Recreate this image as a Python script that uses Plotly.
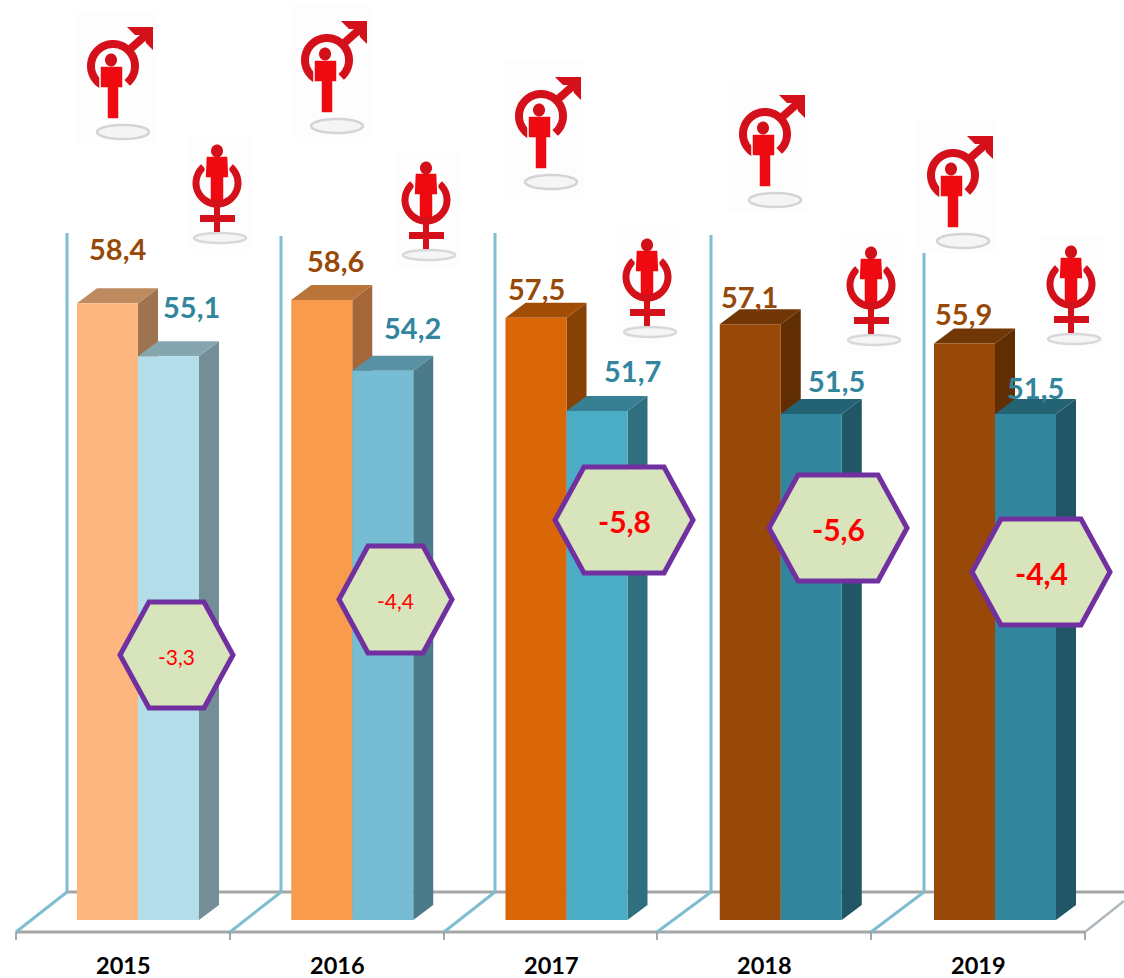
import numpy as np
import plotly.graph_objects as go

# Chart data
YEARS = [2015, 2016, 2017, 2018, 2019]
MEN = [58.4, 58.6, 57.5, 57.1, 55.9]
WOMEN = [55.1, 54.2, 51.7, 51.5, 51.5]
GAPS = [-3.3, -4.4, -5.8, -5.6, -4.4]

# Face colours per year: front, top, side
MEN_FRONT = ["#FDB67F", "#F99B4D", "#D96708", "#984807", "#984807"]
MEN_TOP = ["#BE8A60", "#B97539", "#A24D06", "#713605", "#713605"]
MEN_SIDE = ["#9E7350", "#A5663A", "#884104", "#612E04", "#612E04"]
WOMEN_FRONT = ["#B3DDE8", "#76BDD4", "#4BACC6", "#31859C", "#31859C"]
WOMEN_TOP = ["#85A6AE", "#5891A4", "#377F93", "#246374", "#246374"]
WOMEN_SIDE = ["#738E96", "#4B7B8B", "#306F80", "#205665", "#205665"]
MEN_LABEL = "#984807"
WOMEN_LABEL = "#31859C"

# Canvas and scale
W, H = 1124, 978
BASE = 20
PX_PER_YEAR = 214.25
PX_PER_UNIT = 16.06
LEFT_YEAR_PX = 138
BASE_PX = 920
BAR_W = 61 / PX_PER_YEAR
DX = 20 / PX_PER_YEAR
DY = 15 / PX_PER_UNIT
XR = [2015 - LEFT_YEAR_PX / PX_PER_YEAR, 2015 + (W - LEFT_YEAR_PX) / PX_PER_YEAR]
YR = [BASE - (H - BASE_PX) / PX_PER_UNIT, BASE + BASE_PX / PX_PER_UNIT]

# Pixel offsets of value labels from the top centre of their bars
MEN_SHIFT = [(10, 55), (14, 40), (0, 29), (-1, 28), (-1, 30)]
WOMEN_SHIFT = [(23, 50), (30, 43), (35, 40), (25, 34), (10, 27)]

# Decor layout in canvas pixels
WALL_X = [67, 281, 495, 711, 924]
WALL_TOP = [233, 236, 233, 235, 250]
TICK_X = [16, 230, 444, 657, 871, 1085]
YEAR_X = [123, 337, 551, 764, 978]
HEX_BOX = [(120, 233, 602, 708), (339, 452, 546, 653), (555, 693, 467, 573),
           (769, 907, 475, 581), (972, 1110, 519, 625)]
HEX_BOLD = [False, False, True, True, True]
MALE_AT = [(114, 66), (328, 60), (542, 116), (766, 134), (954, 175)]
FEMALE_AT = [(217, 188), (426, 205), (647, 282), (871, 290), (1071, 289)]


def px(x, y):
    return x / W, 1 - y / H


def poly(points, close=True):
    parts = []
    for k, (x, y) in enumerate(points):
        u, v = px(x, y)
        parts.append(f"{'M' if k == 0 else 'L'}{u:.5f},{v:.5f}")
    return " ".join(parts) + (" Z" if close else "")


def paper_path(points, fill=None, line=None, lw=0, close=True, layer="above"):
    return dict(type="path", xref="paper", yref="paper", path=poly(points, close),
                fillcolor=fill if fill else "rgba(0,0,0,0)",
                line=dict(color=line if line else "rgba(0,0,0,0)", width=lw),
                layer=layer)


def seg(x0, y0, x1, y1, color, lw, layer="below"):
    return paper_path([(x0, y0), (x1, y1)], None, color, lw, False, layer)


def ellipse(cx, cy, rx, ry, a0=0, a1=360, n=60):
    t = np.radians(np.linspace(a0, a1, n))
    return [(cx + rx * np.cos(a), cy + ry * np.sin(a)) for a in t]


def male_icon(cx, cy):
    ring, body = "#D4101A", "#EE0A10"
    return [
        paper_path([(cx - 38, cy - 55), (cx + 42, cy - 55), (cx + 42, cy + 78), (cx - 38, cy + 78)], "#FEFDFE"),
        paper_path(ellipse(cx + 9, cy + 66, 26, 7), "#F5F5F6", "#D4D4D8", 2.5),
        paper_path(ellipse(cx - 1, cy, 22, 22, 120, 410), None, ring, 8, False),
        seg(cx + 14, cy - 15, cx + 32, cy - 31, ring, 8, "above"),
        paper_path([(cx + 13, cy - 39), (cx + 39, cy - 39), (cx + 39, cy - 16), (cx + 32, cy - 23),
                    (cx + 30, cy - 31), (cx + 21, cy - 31)], ring),
        paper_path([(cx - 14, cy), (cx + 9, cy), (cx + 9, cy + 22), (cx + 5, cy + 22), (cx + 5, cy + 53),
                    (cx - 7, cy + 53), (cx - 7, cy + 22), (cx - 14, cy + 22)], body, "#FFFFFF", 1.5),
        paper_path(ellipse(cx - 3, cy - 6, 6, 6.5), "#D2101A"),
    ]


def female_icon(cx, cy):
    ring, body = "#D4101A", "#EE0A10"
    return [
        paper_path([(cx - 31, cy - 52), (cx + 34, cy - 52), (cx + 34, cy + 62), (cx - 31, cy + 62)], "#FEFDFE"),
        paper_path(ellipse(cx + 3, cy + 50, 26, 5), "#F5F5F6", "#D8D8DC", 2.5),
        paper_path(ellipse(cx, cy - 5, 21, 21, -50, 230), None, ring, 7, False),
        paper_path([(cx - 11, cy - 32), (cx + 11, cy - 32), (cx + 12, cy - 10), (cx + 7, cy - 10), (cx + 7, cy + 15),
                    (cx - 7, cy + 15), (cx - 7, cy - 10), (cx - 12, cy - 10)], body, "#FFFFFF", 1.5),
        # Lower part of the ring closes over the figure's base
        paper_path(ellipse(cx, cy - 5, 21, 21, 55, 125, 12), None, ring, 7, False),
        paper_path(ellipse(cx, cy - 37, 6, 6.5), "#D2101A"),
        paper_path([(cx - 17, cy + 27), (cx + 18, cy + 27), (cx + 18, cy + 34), (cx + 3, cy + 34), (cx + 3, cy + 44),
                    (cx - 3, cy + 44), (cx - 3, cy + 34), (cx - 17, cy + 34)], ring),
        paper_path([(cx - 3, cy + 18), (cx + 3, cy + 18), (cx + 3, cy + 28), (cx - 3, cy + 28)], ring),
    ]


fig = go.Figure()


def add_faces(year, right, value, top_col, side_col):
    left = right - BAR_W
    fig.add_trace(go.Scatter(
        x=[right, right + DX, right + DX, right], y=[BASE, BASE + DY, value + DY, value],
        fill="toself", fillcolor=side_col, mode="none", hoverinfo="skip", showlegend=False))
    fig.add_trace(go.Scatter(
        x=[left, left + DX, right + DX, right], y=[value, value + DY, value + DY, value],
        fill="toself", fillcolor=top_col, mode="none", hoverinfo="skip", showlegend=False))


# Receding faces of the bars, men first so that women's bars sit in front
for i, year in enumerate(YEARS):
    add_faces(year, year, MEN[i], MEN_TOP[i], MEN_SIDE[i])
    add_faces(year, year + BAR_W, WOMEN[i], WOMEN_TOP[i], WOMEN_SIDE[i])

# Front faces on an overlaid subplot, above the receding faces
fig.add_trace(go.Bar(x=YEARS, y=[v - BASE for v in MEN], base=BASE, marker=dict(color=MEN_FRONT, line=dict(width=0)),
                     name="Men", xaxis="x2", yaxis="y2", showlegend=False))
fig.add_trace(go.Bar(x=YEARS, y=[v - BASE for v in WOMEN], base=BASE, marker=dict(color=WOMEN_FRONT, line=dict(width=0)),
                     name="Women", xaxis="x2", yaxis="y2", showlegend=False))

shapes = []

# Floor and side walls
BLUE, GREY = "#7FBDD0", "#A6A6A6"
shapes.append(seg(WALL_X[0], 892, W, 892, GREY, 3))
shapes.append(seg(TICK_X[0], 932, TICK_X[-1], 932, GREY, 3))
for x in TICK_X:
    shapes.append(seg(x, 932, x, 940, "#8C8C8C", 1.5))
for i, x in enumerate(WALL_X):
    shapes.append(seg(x, WALL_TOP[i], x, 892, BLUE, 3))
    shapes.append(seg(TICK_X[i], 932, x, 892, BLUE, 3))
shapes.append(seg(TICK_X[-1], 932, 1124, 901, "#AEB8BC", 2.5))

# Gender symbols
for cx, cy in MALE_AT:
    shapes += male_icon(cx, cy)
for cx, cy in FEMALE_AT:
    shapes += female_icon(cx, cy)

annotations = []


def note(text, size, color, bold=False, **kw):
    annotations.append(dict(text=f"<b>{text}</b>" if bold else text, showarrow=False,
                            font=dict(family="Lato, Carlito, sans-serif", size=size, color=color),
                            xanchor="center", yanchor="middle", **kw))


# Gap badges
for i, (x0, x1, y0, y1) in enumerate(HEX_BOX):
    ym = (y0 + y1) / 2
    shapes.append(paper_path([(x0, ym), (x0 + 29, y0), (x1 - 29, y0), (x1, ym), (x1 - 29, y1), (x0 + 29, y1)],
                             "#D8E4BC", "#7030A0", 5))
    label = f"{GAPS[i]:.1f}".replace(".", ",")
    note(label, 30 if HEX_BOLD[i] else 21, "#FF0000", HEX_BOLD[i],
         xref="paper", yref="paper", x=(x0 + x1) / 2 / W, y=1 - (ym + 1) / H)

# Value labels and year captions
for i, year in enumerate(YEARS):
    for val, cx, (sx, sy), col in ((MEN[i], year - BAR_W / 2, MEN_SHIFT[i], MEN_LABEL),
                                   (WOMEN[i], year + BAR_W / 2, WOMEN_SHIFT[i], WOMEN_LABEL)):
        note(f"{val:.1f}".replace(".", ","), 29, col, True, xref="x", yref="y", x=cx, y=val, xshift=sx, yshift=sy)
    note(str(year), 23.5, "#000000", True, xref="paper", yref="paper", x=YEAR_X[i] / W, y=1 - 965 / H)

hidden = dict(visible=False, showgrid=False, zeroline=False, fixedrange=True)
fig.update_layout(
    width=W, height=H, margin=dict(l=0, r=0, t=0, b=0, pad=0),
    paper_bgcolor="#FFFFFF", plot_bgcolor="#FFFFFF", showlegend=False,
    barmode="group", bargap=1 - 2 * BAR_W, bargroupgap=0,
    xaxis=dict(range=XR, **hidden), yaxis=dict(range=YR, **hidden),
    xaxis2=dict(range=XR, overlaying="x", **hidden), yaxis2=dict(range=YR, overlaying="y", **hidden),
    shapes=shapes, annotations=annotations,
)
fig.write_html("out.html", config=dict(displayModeBar=False))
